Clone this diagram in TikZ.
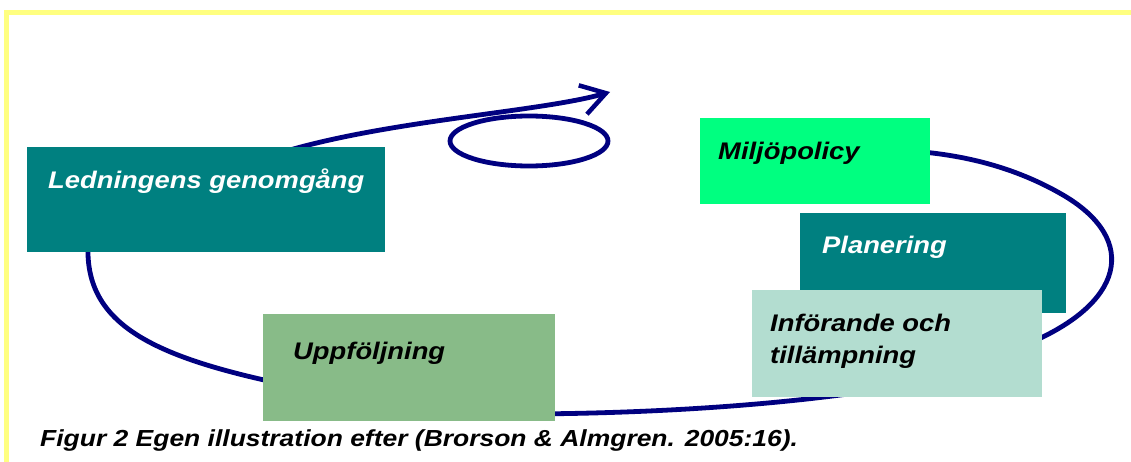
\documentclass[tikz,border=0pt]{standalone}
\usepackage{fontspec}
\setmainfont{Liberation Sans}
\newfontfamily\boxfont[FakeStretch=1.14]{Liberation Sans}
\usetikzlibrary{backgrounds,arrows.meta,calc}
\definecolor{frameyellow}{HTML}{FFFF80}
\definecolor{cyclenavy}{HTML}{000080}
\definecolor{boxteal}{HTML}{008080}
\definecolor{boxgreen}{HTML}{00FF80}
\definecolor{boxpale}{HTML}{B3DDD0}
\definecolor{boxsage}{HTML}{88BB88}
\tikzset{
  box/.style={rectangle, inner sep=0pt, anchor=north west},
  boxlabel/.style={anchor=base west, inner sep=0pt, align=left,
    font=\boxfont\bfseries\itshape\fontsize{24}{32}\selectfont},
  cycleline/.style={draw=cyclenavy, line width=4.8pt, line cap=round},
}
\begin{document}
\begin{tikzpicture}[x=1pt,y=-1pt]
\useasboundingbox (0,0) rectangle (1131,462);
\begin{scope}[on background layer]
  \fill[white] (0,0) rectangle (1131,462);
\end{scope}
% frame
\draw[frameyellow, line width=5pt] (6,462) -- (6,12.5) -- (1131,12.5);

% boxes
\node[box, fill=boxteal, minimum width=358pt, minimum height=105pt] (ledn) at (27,147) {};
\node[box, fill=boxgreen, minimum width=230pt, minimum height=86pt] (milj) at (700,118) {};
\node[box, fill=boxteal, minimum width=266pt, minimum height=100pt] (plan) at (800,213) {};
\node[box, fill=boxpale, minimum width=290pt, minimum height=107pt] (infor) at (752,290) {};
\node[box, fill=boxsage, minimum width=292pt, minimum height=107pt] (uppf) at (263,314) {};

% labels
\node[boxlabel, text=white] (lednt) at ($(ledn.north west)+(21,42)$) {Ledningens genomgång};
\node[boxlabel, text=black] (miljt) at ($(milj.north west)+(18,42)$) {Miljöpolicy};
\node[boxlabel, text=white] (plant) at ($(plan.north west)+(22,40)$) {Planering};
\node[boxlabel, text=black] (infort) at ($(infor.north west)+(18,73)$) {Införande och\\tillämpning};
\node[boxlabel, text=black] (uppft) at ($(uppf.north west)+(30,45)$) {Uppföljning};

% caption
\node[anchor=base west, inner sep=0pt, font=\boxfont\bfseries\itshape\fontsize{23.2}{26}\selectfont] (caption) at (40,446)
  {Figur 2 Egen illustration efter (Brorson \& Almgren. 2005:16).};

% cycle connectors (behind the boxes)
\begin{scope}[on background layer]
  \coordinate (c1) at ($(ledn.south west)+(61,-5)$);
  \coordinate (c2) at ($(uppf.north west)+(10,68)$);
  \draw[cycleline] (c1) .. controls ($(c1)+(-2,75)$) and (150,355) .. (c2);
  \coordinate (c3) at ($(uppf.north east)+(-40,100)$);
  \coordinate (c4) at ($(infor.south west)+(140,-10)$);
  \draw[cycleline] (c3) .. controls (640,414) and (780,406) .. (c4);
  \coordinate (c5) at ($(infor.north east)+(-20,56)$);
  \coordinate (c6) at ($(milj.north east)+(-20,33)$);
  \draw[cycleline] (c5) .. controls (1125,305) and (1140,240) .. (1063,195)
        .. controls (1020,170) and (970,155) .. (c6);
  \coordinate (c7) at ($(ledn.north west)+(256,5)$);
  \coordinate (tip) at (610,92);
  \draw[cycleline, -{Straight Barb[length=24pt,width=30pt,line width=4.5pt]}]
     (c7) .. controls (390,120) and (540,112) .. (tip);
  \draw[cycleline] (529,141) ellipse [x radius=79pt, y radius=25pt];
\end{scope}
\end{tikzpicture}
\end{document}
